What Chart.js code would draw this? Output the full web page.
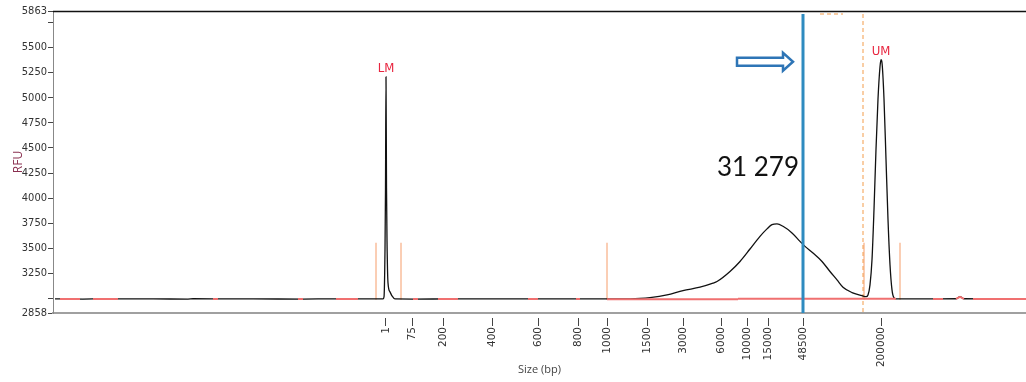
<!DOCTYPE html>
<html>
<head>
<meta charset="utf-8">
<script src="https://cdn.jsdelivr.net/npm/chart.js@4.4.1/dist/chart.umd.min.js"></script>
<style>
  body { margin: 0; background: #fff; }
  #wrap { width: 1026px; height: 382px; }
</style>
</head>
<body>
<div id="wrap"><canvas id="gel" width="1026" height="382"></canvas></div>
<script>
// ------------------------------------------------------
// Electropherogram (RFU vs migration, size ladder on x)
// ------------------------------------------------------

// size ladder: label + migration time where it sits
const ladderSizes = ["1", "75", "200", "400", "600", "800", "1000", "1500", "3000", "6000", "10000", "15000", "48500", "200000"];
const ladderTime = [33.3, 35.9, 39.0, 43.9, 48.5, 52.5, 55.4, 59.4, 63.0, 66.8, 69.4, 71.5, 75.0, 82.8];

// RFU axis ticks (3000 and 5750 have a mark but no label)
const rfuTicks = [2858, 3000, 3250, 3500, 3750, 4000, 4250, 4500, 4750, 5000, 5250, 5500, 5750, 5863];
const rfuUnlabelled = [3000, 5750];

// the trace
const traceTime = [0.2, 3, 5, 8, 10, 13.5, 14, 18, 20, 25, 28, 30, 31.5, 32.8, 33.0, 33.1, 33.2, 33.25, 33.3, 33.35, 33.4, 33.5, 33.7, 33.9, 34.2,
  36, 40, 44, 48, 52, 55, 56.7, 58.7, 59.7, 61.4, 63.0, 64.7, 66.0, 66.4, 67.7, 68.7, 69.7, 70.7, 71.4, 71.9, 72.4, 73.0, 73.9,
  74.7, 75.2, 76.0, 76.9, 77.7, 78.4, 79.0, 79.9, 80.9, 81.3, 81.5, 81.7, 81.9, 82.1, 82.3, 82.5, 82.7, 82.8, 82.9, 83.1, 83.3, 83.5,
  83.7, 83.9, 84.1, 84.3, 86, 88, 90.3, 90.7, 91.1, 93, 95, 97.3];
const traceRfu = [2998, 2997, 2999, 2998, 2998, 2997, 3000, 2998, 2998, 2997, 2999, 2998, 2998, 2998, 2998, 3018, 3488, 4088, 5208, 4108, 3588, 3158, 3068, 3028, 2998,
  2997, 2998, 2998, 2999, 2998, 2998, 2998, 3003, 3011, 3038, 3081, 3115, 3155, 3171, 3271, 3371, 3495, 3621, 3695, 3738, 3745, 3721, 3655,
  3571, 3521, 3455, 3371, 3271, 3188, 3115, 3061, 3031, 3020, 3038, 3138, 3388, 3888, 4488, 4988, 5308, 5378, 5348, 4988, 4388, 3788,
  3338, 3088, 3008, 2998, 2998, 2999, 3000, 3021, 3000, 2999, 3001, 3000];

// baseline fit (red pieces, null = gap)
const baseTime = [0.7, 2.7, null, 4.0, 6.5, null, 16.0, 16.5, null, 24.5, 25.0, null, 28.3, 30.5, null, 36.0, 36.5, null, 38.5, 40.5, null,
  47.5, 48.5, null, 52.3, 52.7, null, 55.4, 68.5, null, 68.5, 84.3, null, 88.0, 89.0, null, 90.3, 90.7, 91.1, null, 92.0, 97.3];
const baseRfu = [2997, 2997, null, 2997, 2997, null, 2997, 2997, null, 2997, 2997, null, 2997, 2997, null, 2997, 2997, null, 2997, 2997, null,
  2997, 2997, null, 2997, 2997, null, 2995, 2995, null, 3001, 3001, null, 2997, 2997, null, 2999, 3019, 2999, null, 2998, 2998];

// peak boundary marks
const boundTime = [32.3, 34.8, 55.4, 81.1, 84.7];
const boundTop = 3558;
const boundBottom = 2990;

// markers
const markerNames = ["LM", "UM"];
const markerTime = [33.3, 82.8];
const markerRfu = [5208, 5378];

// cut position + note
const cutTime = 75.0;
const cutLabel = "31 279";
const cutLabelTime = 70.5;
const cutLabelRfu = 4308;
const arrowFrom = 68.4;
const arrowTo = 74.0;
const arrowRfu = 5358;
const dashTime = 81.0;
const topRfu = 5833;

function pts(xs, ys) {
    return xs.map((x, i) => ({ x: x, y: ys[i] === null ? null : ys[i] }));
}

const boundPts = [];
boundTime.forEach(t => {
    boundPts.push({ x: t, y: boundBottom }, { x: t, y: boundTop }, { x: t, y: null });
});

// extra drawing: top frame line, arrow, note, marker names
const extras = {
    id: "extras",
    afterDatasetsDraw(chart) {
        const { ctx, chartArea, scales } = chart;
        const xs = scales.x, ys = scales.y;
        ctx.save();

        // top frame
        ctx.strokeStyle = "#111";
        ctx.lineWidth = 1.5;
        ctx.beginPath();
        ctx.moveTo(chartArea.left, chartArea.top + 0.5);
        ctx.lineTo(chartArea.right, chartArea.top + 0.5);
        ctx.stroke();

        // outline arrow
        const x0 = xs.getPixelForValue(arrowFrom);
        const x1 = xs.getPixelForValue(arrowTo);
        const yc = ys.getPixelForValue(arrowRfu);
        const xh = x1 - 10;
        ctx.beginPath();
        ctx.moveTo(x0, yc - 4);
        ctx.lineTo(xh, yc - 4);
        ctx.lineTo(xh, yc - 9);
        ctx.lineTo(x1, yc);
        ctx.lineTo(xh, yc + 9);
        ctx.lineTo(xh, yc + 4);
        ctx.lineTo(x0, yc + 4);
        ctx.closePath();
        ctx.fillStyle = "#fff";
        ctx.fill();
        ctx.strokeStyle = "#2e75b6";
        ctx.lineWidth = 2.5;
        ctx.stroke();

        // note
        ctx.fillStyle = "#111";
        ctx.font = "26px Lato, 'Open Sans', sans-serif";
        ctx.textAlign = "center";
        ctx.textBaseline = "middle";
        ctx.fillText(cutLabel, xs.getPixelForValue(cutLabelTime), ys.getPixelForValue(cutLabelRfu));

        // marker names
        ctx.fillStyle = "#e8253f";
        ctx.font = "13px 'DejaVu Sans Condensed', sans-serif";
        markerNames.forEach((n, i) => {
            ctx.fillText(n, xs.getPixelForValue(markerTime[i]), ys.getPixelForValue(markerRfu[i]) - 8);
        });

        ctx.restore();
    }
};

new Chart(document.getElementById("gel").getContext("2d"), {
    type: "line",
    data: {
        datasets: [
            {
                data: [{ x: cutTime, y: topRfu }, { x: cutTime, y: 2858 }],
                borderColor: "#2e8bc0",
                borderWidth: 3,
                pointRadius: 0,
                order: 0
            },
            {
                data: pts(baseTime, baseRfu),
                borderColor: "#f07070",
                borderWidth: 2,
                pointRadius: 0,
                spanGaps: false,
                order: 1
            },
            {
                data: pts(traceTime, traceRfu),
                borderColor: "#111",
                borderWidth: 1.3,
                pointRadius: 0,
                cubicInterpolationMode: "monotone",
                order: 2
            },
            {
                data: [{ x: dashTime, y: topRfu }, { x: dashTime, y: 2858 }, { x: dashTime, y: null },
                       { x: 76.7, y: topRfu }, { x: 79.0, y: topRfu }],
                borderColor: "#f39c4a",
                borderWidth: 1,
                borderDash: [4, 3],
                pointRadius: 0,
                spanGaps: false,
                order: 3
            },
            {
                data: boundPts,
                borderColor: "rgba(245,140,80,0.65)",
                borderWidth: 1.3,
                pointRadius: 0,
                spanGaps: false,
                order: 4
            }
        ]
    },
    options: {
        responsive: false,
        animation: false,
        layout: { padding: { top: 11, right: 0, bottom: 0, left: 0 } },
        plugins: {
            legend: { display: false },
            tooltip: { enabled: false }
        },
        scales: {
            x: {
                type: "linear",
                min: 0,
                max: 97.3,
                afterBuildTicks: s => { s.ticks = ladderTime.map(v => ({ value: v })); },
                afterFit: s => { s.height = 69; },
                ticks: {
                    autoSkip: false,
                    minRotation: 90,
                    maxRotation: 90,
                    padding: 1,
                    color: "#333",
                    font: { family: "'DejaVu Sans', sans-serif", size: 10.5 },
                    callback: (v, i) => ladderSizes[i]
                },
                grid: {
                    drawOnChartArea: false,
                    tickLength: 13,
                    tickBorderDash: [0, 4, 9, 40],
                    tickColor: "#444",
                    tickWidth: 1
                },
                border: { color: "#a0a0a0", width: 2 },
                title: {
                    display: true,
                    text: "Size (bp)",
                    color: "#444",
                    font: { family: "'Open Sans', sans-serif", size: 11 },
                    padding: { top: 0, bottom: 6 }
                }
            },
            y: {
                min: 2858,
                max: 5863,
                afterBuildTicks: s => { s.ticks = rfuTicks.map(v => ({ value: v })); },
                afterFit: s => { s.width = 53; },
                ticks: {
                    autoSkip: false,
                    padding: 1,
                    color: "#333",
                    font: { family: "'DejaVu Sans Condensed', sans-serif", size: 11 },
                    callback: v => rfuUnlabelled.includes(v) ? "" : String(v)
                },
                grid: {
                    drawOnChartArea: false,
                    tickLength: 5,
                    tickColor: "#444"
                },
                border: { color: "#888", width: 1 },
                title: {
                    display: true,
                    text: "RFU",
                    color: "#8a3050",
                    font: { family: "'Open Sans', sans-serif", size: 12 },
                    padding: { top: 11, bottom: 0 }
                }
            }
        }
    },
    plugins: [extras]
});
</script>
</body>
</html>
